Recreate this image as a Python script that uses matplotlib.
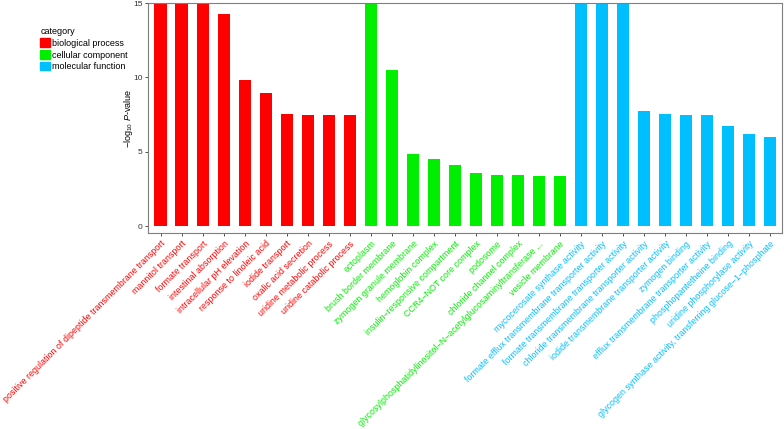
import matplotlib.pyplot as plt
from matplotlib.patches import Patch

plt.rcParams['font.family'] = ['Liberation Sans', 'DejaVu Sans']
plt.rcParams['mathtext.fontset'] = 'custom'
plt.rcParams['mathtext.rm'] = 'Liberation Sans'
plt.rcParams['mathtext.it'] = 'Liberation Sans:italic'

# GO terms, grouped by category
bp_terms = ["positive regulation of dipeptide transmembrane transport", "mannitol transport",
            "formate transport", "intestinal absorption", "intracellular pH elevation",
            "response to linoleic acid", "iodide transport", "oxalic acid secretion",
            "uridine metabolic process", "uridine catabolic process"]
cc_terms = ["ectoplasm", "brush border membrane", "zymogen granule membrane", "hemoglobin complex",
            "insulin\u2212responsive compartment", "CCR4\u2212NOT core complex", "podosome",
            "chloride channel complex",
            "glycosylphosphatidylinositol\u2212N\u2212acetylglucosaminyltransferase ...",
            "vesicle membrane"]
mf_terms = ["mycocerosate synthase activity", "formate efflux transmembrane transporter activity",
            "formate transmembrane transporter activity", "chloride transmembrane transporter activity",
            "iodide transmembrane transporter activity", "zymogen binding",
            "efflux transmembrane transporter activity", "phosphopantetheine binding",
            "uridine phosphorylase activity",
            "glycogen synthase activity, transferring glucose\u22121\u2212phosphate"]

# -log10 P values (bars above 15 are cut off in the original)
bp_vals = [16.5, 16.5, 16.5, 14.27, 9.86, 8.95, 7.54, 7.47, 7.47, 7.47]
cc_vals = [16.5, 10.5, 4.88, 4.5, 4.13, 3.59, 3.45, 3.43, 3.38, 3.36]
mf_vals = [16.5, 16.5, 16.5, 7.72, 7.57, 7.47, 7.47, 6.72, 6.2, 6.0]

categories = ["biological process", "cellular component", "molecular function"]
colors = ["#ff0000", "#00ee00", "#00bfff"]

terms = bp_terms + cc_terms + mf_terms
vals = bp_vals + cc_vals + mf_vals
cols = [colors[0]] * len(bp_terms) + [colors[1]] * len(cc_terms) + [colors[2]] * len(mf_terms)

fig = plt.figure(figsize=(7.84, 4.29), dpi=100)
ax = fig.add_axes([0.189, 0.457, 0.808, 0.536])

x = list(range(len(terms)))
ax.bar(x, vals, width=0.6, color=cols)
ax.set_ylim(-0.45, 15)
ax.set_xlim(-0.6, len(terms) - 0.45)

ax.set_yticks([0, 5, 10, 15])
ax.tick_params(axis='y', labelsize=6, colors='#333333', length=2.5, width=0.6, pad=1.5)
ax.tick_params(axis='x', length=2.5, width=0.6, color='#333333', pad=2)
ax.set_xticks(x)
ax.set_xticklabels(terms, rotation=45, ha='right', va='top', rotation_mode='anchor', fontsize=6.4)
for lab, c in zip(ax.get_xticklabels(), cols):
    lab.set_color(c)

for s in ax.spines.values():
    s.set_color('#7f7f7f')
    s.set_linewidth(0.8)

ax.set_ylabel("\u2212log$_{10}$ $P$-value", fontsize=6.5, labelpad=-1.5)

handles = [Patch(color=c, label=l) for c, l in zip(colors, categories)]
fig.legend(handles=handles, title="category", loc='upper left', bbox_to_anchor=(0.047, 0.945),
           frameon=False, fontsize=6.5, title_fontsize=6.5, handlelength=1.1, handleheight=1.1,
           labelspacing=0.25, handletextpad=0.2, borderaxespad=0, alignment='left')

fig.savefig("out.png", dpi=100)
